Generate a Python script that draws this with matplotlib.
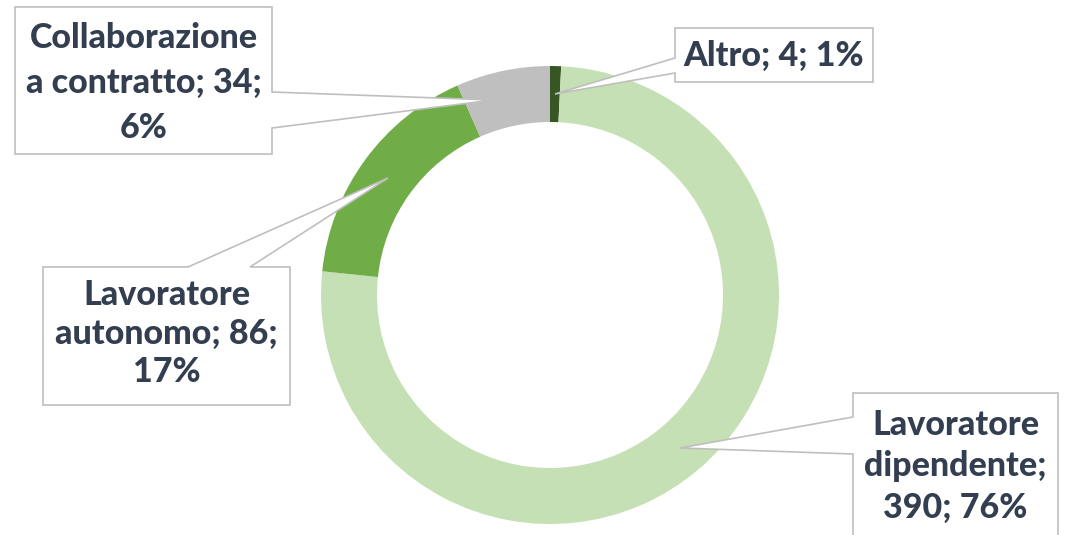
import matplotlib
matplotlib.use('Agg')
import matplotlib.pyplot as plt
from matplotlib.patches import Polygon

# data (clockwise from 12 o'clock)
categories = ['Altro', 'Lavoratore\ndipendente', 'Lavoratore\nautonomo', 'Collaborazione\na contratto']
values = [4, 390, 86, 34]
percents = [1, 76, 17, 6]
# separators: between name and value, between value and percent
breaks = [(' ', ' '), ('\n', ' '), (' ', '\n'), (' ', '\n')]
colors = ['#375623', '#C5E0B4', '#70AD47', '#BFBFBF']

text_color = '#333F50'
edge_color = '#BFBFBF'

fig = plt.figure(figsize=(10.74, 5.35), dpi=100)
ax = fig.add_axes([0, 0, 1, 1])

# ring, drawn in pixel-like coordinates (y inverted -> counterclock draws clockwise)
cx, cy, R = 550, 295, 229
ax.pie(values, colors=colors, startangle=-90, counterclock=True,
       center=(cx, cy), radius=R,
       wedgeprops=dict(width=56, edgecolor='none', linewidth=0))

ax.set_xlim(0, 1074)
ax.set_ylim(535, 0)
ax.set_aspect('equal')
ax.axis('off')

# callout boxes: box (x0, y0, x1, y1), callout base points, tip, first baseline, line step
callouts = [
    dict(box=(675, 28, 873, 82), side='left', base=(58, 73), tip=(555, 94), y0=66, step=0),
    dict(box=(853, 393, 1058, 560), side='left', base=(417, 454), tip=(680, 448), y0=435, step=41.5),
    dict(box=(43, 267, 290, 405), side='top', base=(188, 250), tip=(388, 178), y0=305, step=38.5),
    dict(box=(15, 7, 272, 154), side='right', base=(92, 128), tip=(493, 100), y0=48, step=45),
]

for cat, val, pct, (s1, s2), c in zip(categories, values, percents, breaks, callouts):
    x0, y0, x1, y1 = c['box']
    b1, b2 = c['base']
    tx, ty = c['tip']
    if c['side'] == 'left':
        pts = [(x0, y0), (x1, y0), (x1, y1), (x0, y1), (x0, b2), (tx, ty), (x0, b1)]
    elif c['side'] == 'right':
        pts = [(x0, y0), (x1, y0), (x1, b1), (tx, ty), (x1, b2), (x1, y1), (x0, y1)]
    else:
        pts = [(x0, y0), (b1, y0), (tx, ty), (b2, y0), (x1, y0), (x1, y1), (x0, y1)]
    ax.add_patch(Polygon(pts, closed=True, facecolor='white', edgecolor=edge_color,
                         linewidth=1.2, zorder=5))
    label = f'{cat};{s1}{val};{s2}{pct}%'
    xm = (x0 + x1) / 2
    for i, line in enumerate(label.split('\n')):
        ax.text(xm, c['y0'] + i * c['step'], line, ha='center', va='baseline',
                fontsize=24.5, fontweight='black', family='Lato', color=text_color, zorder=6)

fig.savefig('out.png', dpi=100)
